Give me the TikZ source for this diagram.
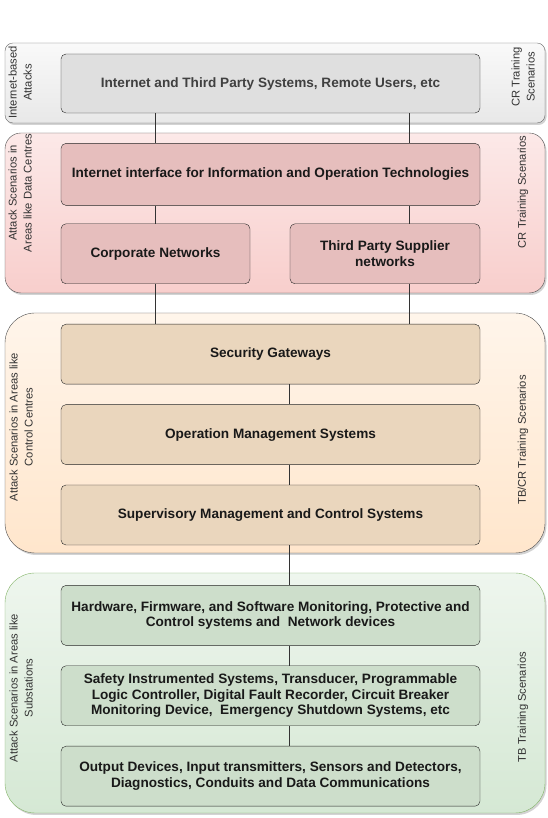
\documentclass[tikz,border=0pt]{standalone}
\usepackage{fontspec}
\setmainfont{Liberation Sans}
\usetikzlibrary{positioning, shadows}
\definecolor{netband}{HTML}{E8E8E8}
\definecolor{netbox}{HTML}{DFDFDF}
\definecolor{dcband}{HTML}{F8CECC}
\definecolor{dcbox}{HTML}{E6BEBD}
\definecolor{ccband}{HTML}{FFE6CC}
\definecolor{ccbox}{HTML}{EAD6BD}
\definecolor{ssband}{HTML}{D5E8D4}
\definecolor{ssbox}{HTML}{CDDECB}
\definecolor{ssedge}{HTML}{82B366}
\tikzstyle{band} = [draw=black!70, minimum width=540pt, inner sep=0pt,
	drop shadow={shadow xshift=1.5pt, shadow yshift=-2pt, opacity=0.35}]
\tikzstyle{layer} = [draw=black!85, rounded corners=5pt, minimum height=60pt,
	align=center, inner sep=2pt, text=black!90,
	font=\fontsize{13.6}{15.5}\selectfont\bfseries]
\tikzstyle{wide} = [layer, minimum width=419pt]
\tikzstyle{half} = [layer, minimum width=189pt]
\tikzstyle{side} = [rotate=90, align=center, text=black!80,
	font=\fontsize{11.2}{15}\selectfont]
\tikzstyle{wire} = [draw, black!80, line width=0.8pt]

\begin{document}
\begin{tikzpicture}[x=1pt, y=1pt]
	\useasboundingbox (0,0) rectangle (548,818);
	% bands
	\node [band, rounded corners=8pt, minimum height=80pt, top color=white!75!netband,
		bottom color=netband, draw=black!60] (bandnet) at (275,735) {};
	\node [band, rounded corners=16pt, minimum height=160pt, top color=white!55!dcband,
		bottom color=dcband] (banddc) at (275,605) {};
	\node [band, rounded corners=30pt, minimum height=240pt, top color=white!60!ccband,
		bottom color=ccband] (bandcc) at (275,385) {};
	\node [band, rounded corners=30pt, minimum height=240pt, top color=white!60!ssband,
		bottom color=ssband, draw=ssedge] (bandss) at (275,125) {};

	% side labels
	\node [side] (netatk) at (20,735.5) {Internet-based\\Attacks};
	\node [side] (nettrain) at (523,741) {CR Training\\Scenarios};
	\node [side] (dcatk) at (20,625) {Attack Scenarios in\\Areas like Data Centres};
	\node [side] (dctrain) at (523,626) {CR Training Scenarios};
	\node [side] (ccatk) at (21,391) {Attack Scenarios in Areas like\\Control Centres};
	\node [side] (cctrain) at (523,378) {TB/CR Training Scenarios};
	\node [side] (ssatk) at (21,130) {Attack Scenarios in Areas like\\Substations};
	\node [side] (sstrain) at (523,111) {TB Training Scenarios};

	% layers
	\node [wide, fill=netbox, minimum height=59pt, text=black!75] (inet) at (270.5,734.5)
		{Internet and Third Party Systems, Remote Users, etc};
	\node [wide, fill=dcbox, minimum height=62pt, below=30pt of inet] (iface)
		{Internet interface for Information and Operation Technologies};
	\node [half, fill=dcbox, below=18pt of iface.south west, anchor=north west] (corp)
		{Corporate Networks};
	\node [half, fill=dcbox, minimum width=190pt, below=18pt of iface.south east,
		anchor=north east] (third) {Third Party Supplier\\networks};
	\node [wide, fill=ccbox, below=40pt of corp.south west, anchor=north west] (sg)
		{Security Gateways};
	\node [wide, fill=ccbox, below=20pt of sg] (oms) {Operation Management Systems};
	\node [wide, fill=ccbox, below=20pt of oms] (smcs)
		{Supervisory Management and Control Systems};
	\node [wide, fill=ssbox, below=40pt of smcs] (hw)
		{Hardware, Firmware, and Software Monitoring, Protective and\\
		Control systems and~ Network devices};
	\node [wide, fill=ssbox, below=20pt of hw] (sis)
		{Safety Instrumented Systems, Transducer, Programmable\\
		Logic Controller, Digital Fault Recorder, Circuit Breaker\\
		Monitoring Device,~ Emergency Shutdown Systems, etc};
	\node [wide, fill=ssbox, below=20pt of sis] (out)
		{Output Devices, Input transmitters, Sensors and Detectors,\\
		Diagnostics, Conduits and Data Communications};

	% links
	\coordinate (rx) at ([xshift=120pt]third.north west);
	\coordinate (mx) at ([xshift=229pt]sg.south west);
	\path [wire] (corp.north |- inet.south) -- (corp.north |- iface.north);
	\path [wire] (rx |- inet.south) -- (rx |- iface.north);
	\path [wire] (corp.north |- iface.south) -- (corp.north);
	\path [wire] (rx |- iface.south) -- (rx);
	\path [wire] (corp.south) -- (corp.south |- sg.north);
	\path [wire] (rx |- third.south) -- (rx |- sg.north);
	\path [wire] (mx) -- (mx |- oms.north);
	\path [wire] (mx |- oms.south) -- (mx |- smcs.north);
	\path [wire] (mx |- smcs.south) -- (mx |- hw.north);
	\path [wire] (mx |- hw.south) -- (mx |- sis.north);
	\path [wire] (mx |- sis.south) -- (mx |- out.north);
\end{tikzpicture}
\end{document}
